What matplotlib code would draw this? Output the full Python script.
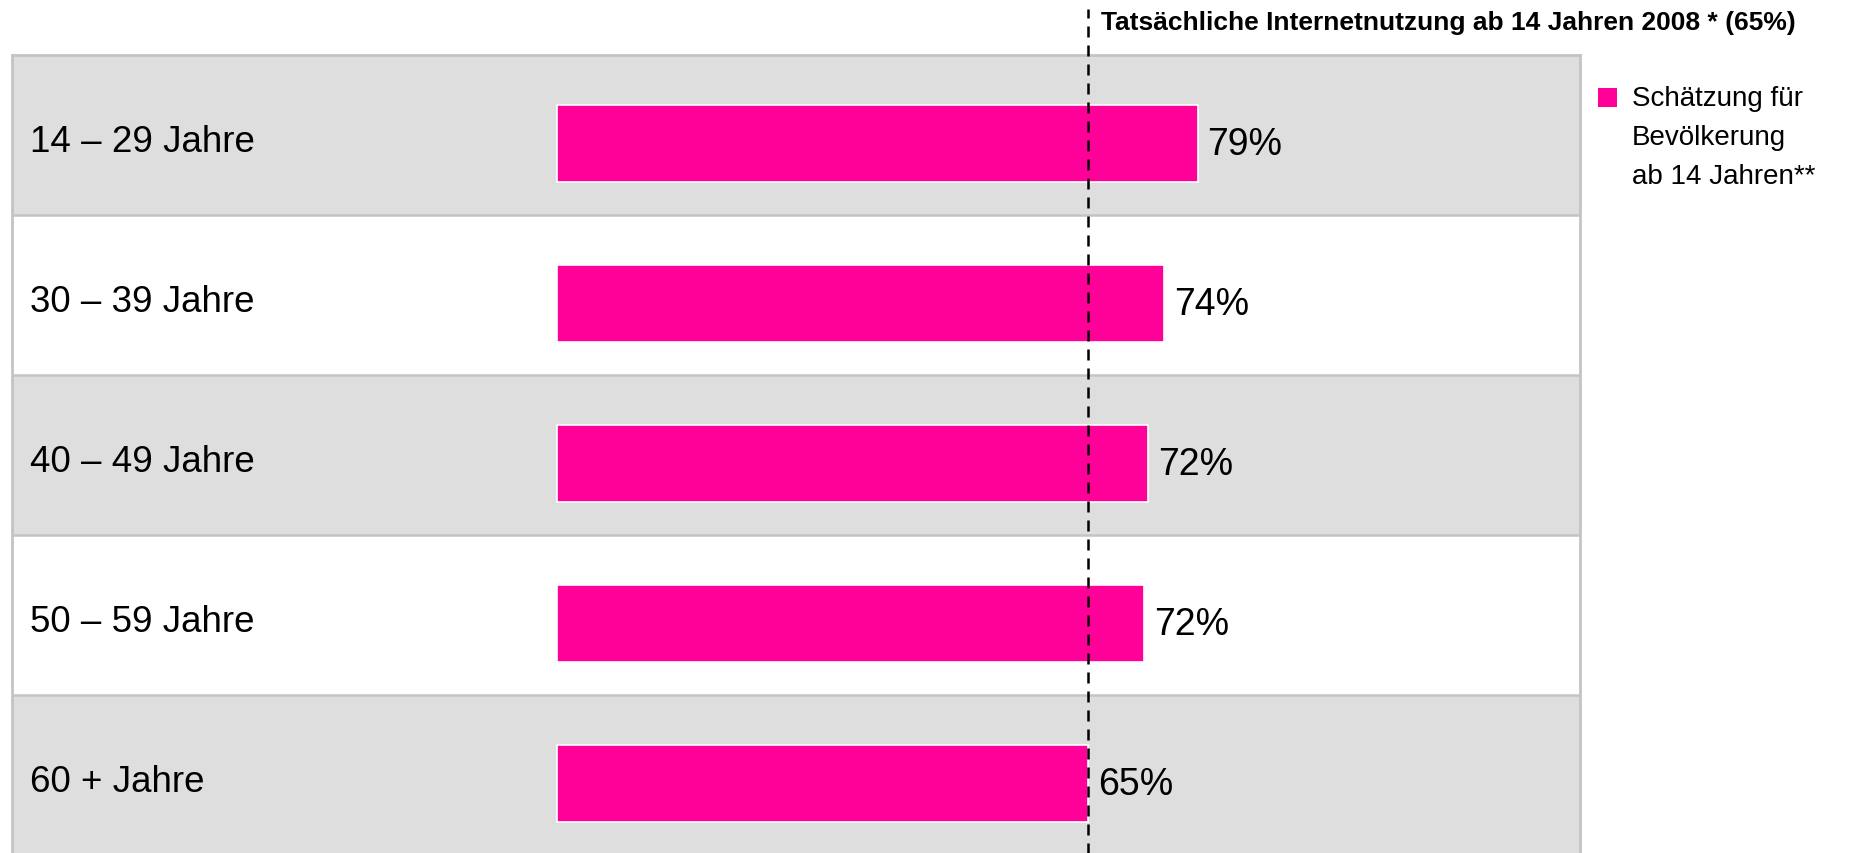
import matplotlib
matplotlib.use("Agg")
import matplotlib.pyplot as plt
from matplotlib.patches import Rectangle
from matplotlib.transforms import blended_transform_factory

plt.rcParams['font.family'] = ['Liberation Sans', 'DejaVu Sans']

categories = ["14 – 29 Jahre", "30 – 39 Jahre", "40 – 49 Jahre", "50 – 59 Jahre", "60 + Jahre"]
values = [78.4, 74.3, 72.3, 71.9, 65.0]
value_labels = ["79%", "74%", "72%", "72%", "65%"]
reference_value = 65
reference_label = "Tatsächliche Internetnutzung ab 14 Jahren 2008 * (65%)"
legend_lines = ["Schätzung für", "Bevölkerung", "ab 14 Jahren**"]

PINK = "#FF0099"
GREY = "#DEDEDE"
LINE = "#C4C4C4"

W, H = 1859, 854
fig = plt.figure(figsize=(W / 100, H / 100), dpi=100)
ax = fig.add_axes([12 / W, 0, (1580 - 12) / W, (H - 56) / H])

px_per_unit = 8.17
x0 = 557
ax.set_xlim(-(x0 - 12) / px_per_unit, (1580 - x0) / px_per_unit)
ax.set_ylim(-0.5 + (H - 56) / 160, -0.5)

ys = list(range(len(categories)))
for i in ys:
    ax.axhspan(i - 0.5, i + 0.5, facecolor=GREY if i % 2 == 0 else "white", zorder=0)
    if i > 0:
        ax.axhline(i - 0.5, color=LINE, lw=1.8, zorder=1)

off = 0.055
ax.barh([y + off for y in ys], values, height=0.48, color=PINK,
        edgecolor="white", linewidth=1.2, zorder=3)

for y, v, lab in zip(ys, values, value_labels):
    ax.annotate(lab, xy=(v, y + off), xytext=(10, 0), textcoords="offset pixels",
                va="center", ha="left", fontsize=27, color="black", zorder=4)

tr = blended_transform_factory(ax.transAxes, ax.transData)
for y, c in zip(ys, categories):
    ax.text(0.0112, y + 0.038, c, transform=tr, va="center", ha="left",
            fontsize=26.5, color="black", zorder=4)

ax.plot([reference_value, reference_value], [ax.get_ylim()[0] + 0.1, -0.5 - 46 / 160],
        ls=(0, (4.4, 3.2)), color="black", lw=1.8, clip_on=False, zorder=5)

ax.set_xticks([])
ax.set_yticks([])
for s in ["top", "left", "right"]:
    ax.spines[s].set_color(LINE)
    ax.spines[s].set_linewidth(2)
ax.spines["bottom"].set_visible(False)

fig.text(1101 / W, 1 - 23 / H, reference_label, fontsize=19, fontweight="bold",
         va="center", ha="left")

fig.patches.append(Rectangle((1598 / W, 1 - 108 / H), 19 / W, 19 / H,
                             transform=fig.transFigure, facecolor=PINK, edgecolor="none"))
for k, line in enumerate(legend_lines):
    fig.text(1632 / W, 1 - (99 + 39 * k) / H, line, fontsize=20, va="center", ha="left")

fig.savefig("out.png", dpi=100)
